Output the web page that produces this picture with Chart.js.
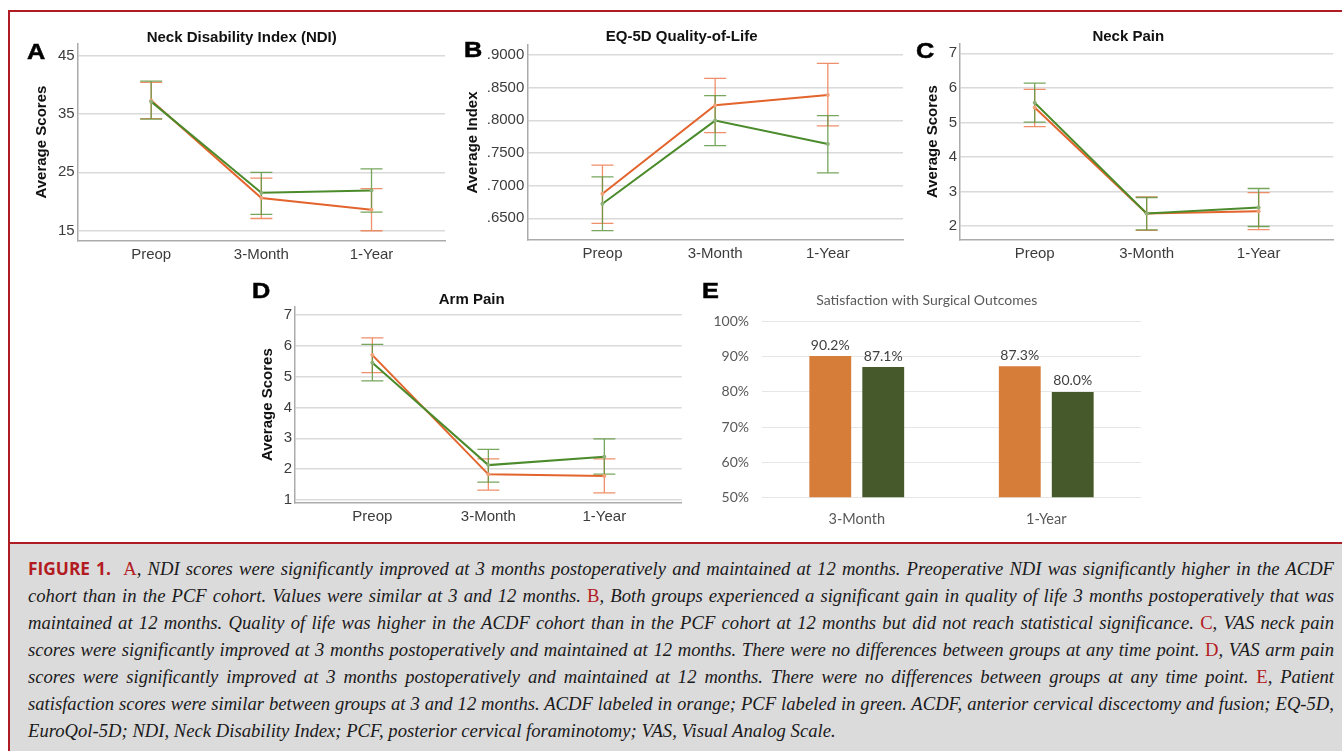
<!DOCTYPE html>
<html>
<head>
<meta charset="utf-8">
<script src="https://cdn.jsdelivr.net/npm/chart.js@4.4.1/dist/chart.umd.min.js"></script>
<style>
body { margin:0; width:1342px; height:751px; overflow:hidden; background:#fff; position:relative; font-family:"Liberation Sans", Arial, sans-serif; }
canvas { position:absolute; }
.letter { position:absolute; font:bold 22px "Liberation Sans", Arial, sans-serif; line-height:22px; color:#000; transform:scaleX(1.15); transform-origin:left top; -webkit-text-stroke:0.5px #000; z-index:3; }
.frame { position:absolute; background:#b01c24; z-index:4; }
#caption { position:absolute; left:10px; top:544px; width:1332px; height:207px; background:#dcdbdc; }
#caption-text { position:absolute; left:18px; top:10.5px; width:1306px; font:italic 18px "Liberation Serif", "Times New Roman", serif; line-height:27px; color:#1a1a1a; }
.ln { white-space:nowrap; text-align:justify; text-align-last:justify; }
.ln.last { text-align-last:left; }
.fig { font-style:normal; font-weight:700; font-family:"Open Sans", sans-serif; font-size:0.93em; color:#b31b22; }
.r { font-style:normal; color:#b31b22; }
</style>
</head>
<body>
<div class="frame" style="left:8px; top:10px; width:1334px; height:2px;"></div>
<div class="frame" style="left:8px; top:10px; width:2px; height:741px;"></div>
<div class="frame" style="left:8px; top:542px; width:1334px; height:2px;"></div>

<canvas id="panelA"></canvas>
<canvas id="panelB"></canvas>
<canvas id="panelC"></canvas>
<canvas id="panelD"></canvas>
<canvas id="panelE"></canvas>

<div class="letter" style="left:27px; top:41px;">A</div>
<div class="letter" style="left:464px; top:39px;">B</div>
<div class="letter" style="left:916px; top:40px;">C</div>
<div class="letter" style="left:252px; top:280px;">D</div>
<div class="letter" style="left:702px; top:280px;">E</div>

<div id="caption">
  <div id="caption-text">
    <div class="ln"><span class="fig">FIGURE 1.</span>&nbsp;&nbsp;<span class="r">A</span>, NDI scores were significantly improved at 3 months postoperatively and maintained at 12 months. Preoperative NDI was significantly higher in the ACDF</div>
    <div class="ln">cohort than in the PCF cohort. Values were similar at 3 and 12 months. <span class="r">B</span>, Both groups experienced a significant gain in quality of life 3 months postoperatively that was</div>
    <div class="ln">maintained at 12 months. Quality of life was higher in the ACDF cohort than in the PCF cohort at 12 months but did not reach statistical significance. <span class="r">C</span>, VAS neck pain</div>
    <div class="ln">scores were significantly improved at 3 months postoperatively and maintained at 12 months. There were no differences between groups at any time point. <span class="r">D</span>, VAS arm pain</div>
    <div class="ln">scores were significantly improved at 3 months postoperatively and maintained at 12 months. There were no differences between groups at any time point. <span class="r">E</span>, Patient</div>
    <div class="ln">satisfaction scores were similar between groups at 3 and 12 months. ACDF labeled in orange; PCF labeled in green. ACDF, anterior cervical discectomy and fusion; EQ-5D,</div>
    <div class="ln last">EuroQol-5D; NDI, Neck Disability Index; PCF, posterior cervical foraminotomy; VAS, Visual Analog Scale.</div>
  </div>
</div>

<script>
// time points shared by the line panels
const timepoints = ['Preop', '3-Month', '1-Year'];

// A - NDI
const ndiAcdf = [37.3, 20.6, 18.6];
const ndiAcdfLow = [34.2, 17.1, 15.0];
const ndiAcdfHigh = [40.4, 24.0, 22.2];
const ndiPcf = [37.1, 21.5, 21.9];
const ndiPcfLow = [34.1, 17.8, 18.2];
const ndiPcfHigh = [40.6, 25.0, 25.6];
const ndiTicks = [15, 25, 35, 45];

// B - EQ-5D
const eqAcdf = [0.6875, 0.8231, 0.8388];
const eqAcdfLow = [0.6421, 0.7812, 0.7914];
const eqAcdfHigh = [0.7313, 0.8643, 0.8873];
const eqPcf = [0.6722, 0.7996, 0.7639];
const eqPcfLow = [0.6313, 0.7613, 0.7196];
const eqPcfHigh = [0.7135, 0.8378, 0.8072];
const eqTicks = [0.65, 0.70, 0.75, 0.80, 0.85, 0.90];

// C - neck pain
const neckAcdf = [5.43, 2.37, 2.43];
const neckAcdfLow = [4.88, 1.88, 1.90];
const neckAcdfHigh = [5.96, 2.85, 2.97];
const neckPcf = [5.57, 2.37, 2.54];
const neckPcfLow = [5.01, 1.89, 1.99];
const neckPcfHigh = [6.14, 2.83, 3.09];
const neckTicks = [2, 3, 4, 5, 6, 7];

// D - arm pain
const armAcdf = [5.70, 1.83, 1.78];
const armAcdfLow = [5.13, 1.32, 1.23];
const armAcdfHigh = [6.26, 2.33, 2.33];
const armPcf = [5.45, 2.13, 2.40];
const armPcfLow = [4.86, 1.58, 1.84];
const armPcfHigh = [6.05, 2.64, 2.98];
const armTicks = [1, 2, 3, 4, 5, 6, 7];

// E - satisfaction
const satCategories = ['3-Month', '1-Year'];
const satAcdf = [90.2, 87.3];
const satPcf = [87.1, 80.0];
const satTicks = [50, 60, 70, 80, 90, 100];

const ORANGE = '#e3642c';
const GREEN = '#4b8b2b';
const ORANGE_ERR = 'rgba(236,125,80,0.85)';
const GREEN_ERR = 'rgba(95,150,65,0.85)';
const SANS = '"Liberation Sans", Arial, sans-serif';
const CALIBRI = 'Lato, "Open Sans", sans-serif';

// fit the caption font so the widest line just fills the block, like the original
(function fitCaption() {
    let box = document.getElementById('caption-text');
    let lines = box.querySelectorAll('.ln');
    let widest = 0;
    lines.forEach(function(l) {
        let r = document.createRange();
        r.selectNodeContents(l);
        let saved = l.style.textAlignLast;
        l.style.textAlignLast = 'left';
        widest = Math.max(widest, r.getBoundingClientRect().width);
        l.style.textAlignLast = saved;
    });
    let size = Math.min(20, 18 * 1300 / widest);
    box.style.fontSize = size.toFixed(2) + 'px';
})();

function toPoints(values) {
    return values.map(function(v, i) { return { x: i, y: v }; });
}

// vertical error bars with caps, drawn from the dataset's low/high arrays
const errorBarPlugin = {
    id: 'errorBars',
    beforeDatasetsDraw(chart) {
        let ctx = chart.ctx;
        let yScale = chart.scales.y;
        chart.data.datasets.forEach(function(ds, i) {
            let meta = chart.getDatasetMeta(i);
            ctx.save();
            ctx.strokeStyle = ds.errorColor;
            ctx.lineWidth = 1.3;
            meta.data.forEach(function(pt, j) {
                let top = yScale.getPixelForValue(ds.high[j]);
                let bottom = yScale.getPixelForValue(ds.low[j]);
                ctx.beginPath();
                ctx.moveTo(pt.x, top);
                ctx.lineTo(pt.x, bottom);
                ctx.moveTo(pt.x - 11, top);
                ctx.lineTo(pt.x + 11, top);
                ctx.moveTo(pt.x - 11, bottom);
                ctx.lineTo(pt.x + 11, bottom);
                ctx.stroke();
            });
            ctx.restore();
        });
    }
};

function makeLinePanel(p) {
    let g = p.box;
    let canvas = document.getElementById(p.id);
    let left = Math.round(g.boxLeft - 16);
    let top = Math.round(g.chartTop - 34);
    let width = Math.round(g.chartRight + 6 - left);
    let height = Math.round(g.chartBottom + 30 - top);
    canvas.style.left = left + 'px';
    canvas.style.top = top + 'px';
    canvas.width = width;
    canvas.height = height;

    let titlePadTop = g.titleY - 6 - top;
    let titlePadBottom = Math.max(0, g.chartTop - g.titleY - 6);

    return new Chart(canvas, {
        type: 'line',
        data: {
            datasets: [
                {
                    label: 'ACDF', data: toPoints(p.acdf), low: p.acdfLow, high: p.acdfHigh,
                    borderColor: ORANGE, errorColor: ORANGE_ERR, borderWidth: 2,
                    pointRadius: 2, pointBorderWidth: 0, pointBackgroundColor: '#f0a27a', order: 1
                },
                {
                    label: 'PCF', data: toPoints(p.pcf), low: p.pcfLow, high: p.pcfHigh,
                    borderColor: GREEN, errorColor: GREEN_ERR, borderWidth: 2,
                    pointRadius: 2, pointBorderWidth: 0, pointBackgroundColor: '#8fb27a', order: 0
                }
            ]
        },
        options: {
            responsive: false,
            animation: false,
            devicePixelRatio: 1,
            layout: { padding: { left: g.boxLeft - left, right: left + width - g.chartRight, top: 0, bottom: 0 } },
            plugins: {
                legend: { display: false },
                tooltip: { enabled: false },
                title: {
                    display: true, text: p.title, color: '#111',
                    font: { family: SANS, size: 15, weight: 'bold', lineHeight: 0.8 },
                    padding: { top: titlePadTop, bottom: titlePadBottom }
                }
            },
            scales: {
                x: {
                    type: 'linear', min: -0.667, max: 2.667,
                    grid: { display: false, drawTicks: false },
                    border: { display: true, color: '#ababab', width: 1.5 },
                    ticks: {
                        color: '#3c3c3c', font: { family: SANS, size: 15 }, padding: 5, maxRotation: 0,
                        callback: function(v) { return timepoints[v]; }
                    },
                    afterBuildTicks: function(s) { s.ticks = timepoints.map(function(_, i) { return { value: i }; }); },
                    afterFit: function(s) { s.height = height - (g.chartBottom - top); }
                },
                y: {
                    min: p.yMin, max: p.yMax,
                    grid: { color: '#dadada', lineWidth: 1.5, drawTicks: false },
                    border: { display: true, color: '#ababab', width: 1.5 },
                    ticks: {
                        color: '#3c3c3c', font: { family: SANS, size: 15 }, padding: 3,
                        callback: p.format
                    },
                    title: {
                        display: true, text: p.yTitle, color: '#111',
                        font: { family: SANS, size: 15, weight: 'bold', lineHeight: 0.5 },
                        padding: { top: g.yTitleX - g.boxLeft - 3.75, bottom: 0 }
                    },
                    afterBuildTicks: function(s) { s.ticks = p.ticks.map(function(v) { return { value: v }; }); },
                    afterFit: function(s) { s.width = g.chartLeft - g.boxLeft; }
                }
            }
        },
        plugins: [errorBarPlugin]
    });
}

function plainNumber(v) { return String(v); }

makeLinePanel({
    id: 'panelA', title: 'Neck Disability Index (NDI)', yTitle: 'Average Scores',
    box: { boxLeft: 38.4, chartLeft: 77.7, chartRight: 445, chartTop: 43, chartBottom: 240.7, titleY: 37.5, yTitleX: 41.7 },
    acdf: ndiAcdf, acdfLow: ndiAcdfLow, acdfHigh: ndiAcdfHigh,
    pcf: ndiPcf, pcfLow: ndiPcfLow, pcfHigh: ndiPcfHigh,
    ticks: ndiTicks, yMin: 13.3, yMax: 47.05, format: plainNumber
});

makeLinePanel({
    id: 'panelB', title: 'EQ-5D Quality-of-Life', yTitle: 'Average Index',
    box: { boxLeft: 460.4, chartLeft: 527.3, chartRight: 903, chartTop: 45, chartBottom: 240, titleY: 36.7, yTitleX: 473.3 },
    acdf: eqAcdf, acdfLow: eqAcdfLow, acdfHigh: eqAcdfHigh,
    pcf: eqPcf, pcfLow: eqPcfLow, pcfHigh: eqPcfHigh,
    ticks: eqTicks, yMin: 0.6168, yMax: 0.9153,
    format: function(v) { return v.toFixed(4).replace(/^0/, ''); }
});

makeLinePanel({
    id: 'panelC', title: 'Neck Pain', yTitle: 'Average Scores',
    box: { boxLeft: 923.3, chartLeft: 960, chartRight: 1333.3, chartTop: 43.3, chartBottom: 240, titleY: 36.7, yTitleX: 933.3 },
    acdf: neckAcdf, acdfLow: neckAcdfLow, acdfHigh: neckAcdfHigh,
    pcf: neckPcf, pcfLow: neckPcfLow, pcfHigh: neckPcfHigh,
    ticks: neckTicks, yMin: 1.6, yMax: 7.29, format: plainNumber
});

makeLinePanel({
    id: 'panelD', title: 'Arm Pain', yTitle: 'Average Scores',
    box: { boxLeft: 261.7, chartLeft: 295, chartRight: 681.7, chartTop: 306.7, chartBottom: 502.7, titleY: 300, yTitleX: 268.3 },
    acdf: armAcdf, acdfLow: armAcdfLow, acdfHigh: armAcdfHigh,
    pcf: armPcf, pcfLow: armPcfLow, pcfHigh: armPcfHigh,
    ticks: armTicks, yMin: 0.91, yMax: 7.27, format: plainNumber
});

// E - bar chart with value labels above bars
const barLabelPlugin = {
    id: 'barLabels',
    afterDatasetsDraw(chart) {
        let ctx = chart.ctx;
        ctx.save();
        ctx.font = '14px ' + CALIBRI;
        ctx.fillStyle = '#404040';
        ctx.textAlign = 'center';
        ctx.textBaseline = 'bottom';
        chart.data.datasets.forEach(function(ds, i) {
            chart.getDatasetMeta(i).data.forEach(function(bar, j) {
                ctx.fillText(ds.data[j].toFixed(1) + '%', bar.x, bar.y - 4);
            });
        });
        ctx.restore();
    }
};

let eBox = { boxLeft: 712.4, chartLeft: 762, chartRight: 1141, chartTop: 321.7, chartBottom: 497.3, titleY: 300 };
let eCanvas = document.getElementById('panelE');
let eLeft = 700, eTop = 282, eWidth = 446, eHeight = 256;
eCanvas.style.left = eLeft + 'px';
eCanvas.style.top = eTop + 'px';
eCanvas.width = eWidth;
eCanvas.height = eHeight;

new Chart(eCanvas, {
    type: 'bar',
    data: {
        labels: satCategories,
        datasets: [
            { label: 'ACDF', data: satAcdf, backgroundColor: '#d67d3a', categoryPercentage: 0.559, barPercentage: 0.79 },
            { label: 'PCF', data: satPcf, backgroundColor: '#46592a', categoryPercentage: 0.559, barPercentage: 0.79 }
        ]
    },
    options: {
        responsive: false,
        animation: false,
        devicePixelRatio: 1,
        layout: { padding: { left: eBox.boxLeft - eLeft, right: eLeft + eWidth - eBox.chartRight, top: 0, bottom: 0 } },
        plugins: {
            legend: { display: false },
            tooltip: { enabled: false },
            title: {
                display: true, text: 'Satisfaction with Surgical Outcomes', color: '#595959',
                font: { family: CALIBRI, size: 14, weight: 'normal', lineHeight: 0.8 },
                padding: { top: eBox.titleY - 5.6 - eTop, bottom: eBox.chartTop - eBox.titleY - 5.6 }
            }
        },
        scales: {
            x: {
                grid: { display: false, drawTicks: false },
                border: { display: false },
                ticks: { color: '#595959', font: { family: CALIBRI, size: 14.5 }, padding: 13 },
                afterFit: function(s) { s.height = eTop + eHeight - eBox.chartBottom; }
            },
            y: {
                min: 50, max: 100,
                grid: { color: '#e6e6e6', lineWidth: 1, drawTicks: false },
                border: { display: false },
                ticks: {
                    color: '#595959', font: { family: CALIBRI, size: 14 }, padding: 13,
                    callback: function(v) { return v + '%'; }
                },
                afterBuildTicks: function(s) { s.ticks = satTicks.map(function(v) { return { value: v }; }); },
                afterFit: function(s) { s.width = eBox.chartLeft - eBox.boxLeft; }
            }
        }
    },
    plugins: [barLabelPlugin]
});
</script>
</body>
</html>
